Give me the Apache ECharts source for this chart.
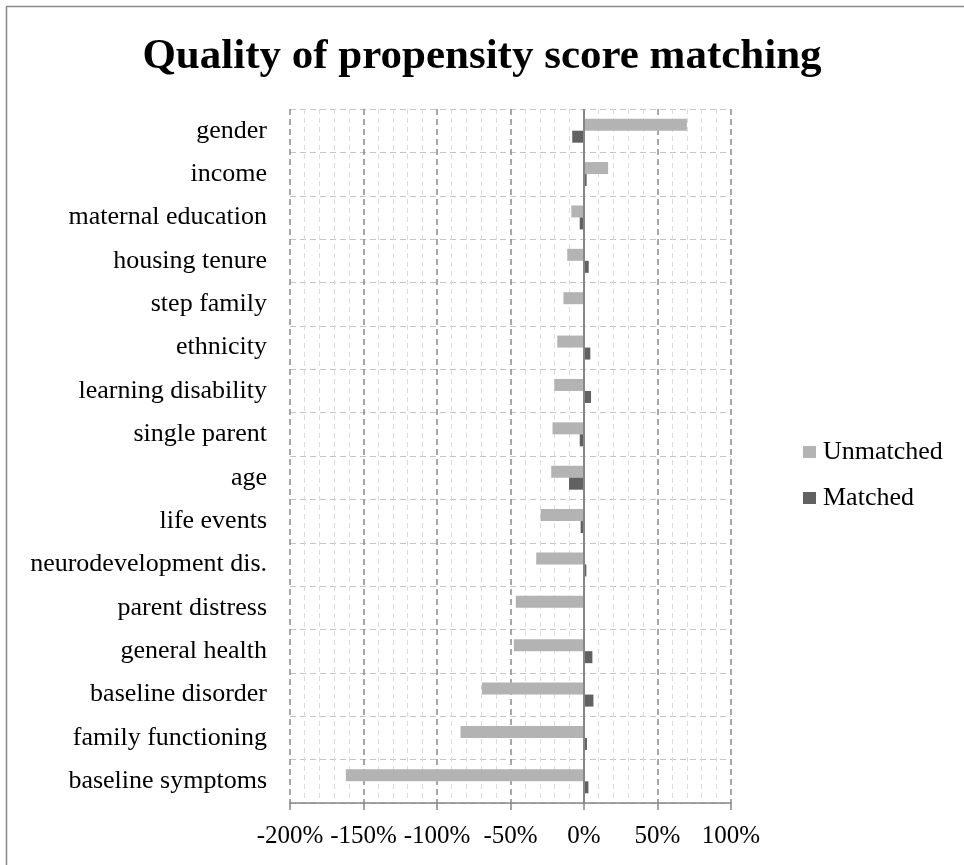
<!DOCTYPE html>
<html>
<head>
<meta charset="utf-8">
<script src="https://cdn.jsdelivr.net/npm/echarts@6/dist/echarts.min.js"></script>
<style>
html,body{margin:0;padding:0;background:#fff;}
#main{width:964px;height:865px;}
</style>
</head>
<body>
<div id="main"></div>
<script>
const categories = ['gender','income','maternal education','housing tenure','step family','ethnicity','learning disability','single parent','age','life events','neurodevelopment dis.','parent distress','general health','baseline disorder','family functioning','baseline symptoms'];
const unmatched = [70, 16.4, -8.6, -11.4, -14, -18.2, -20.2, -21.4, -22.3, -29.5, -32.5, -46.4, -47.7, -69.5, -84, -162];
const matched = [-8, 1.8, -2.9, 3.2, 0, 4.3, 4.8, -2.9, -10.2, -2.3, 1.6, 0, 5.7, 6.4, 2, 3];
const xTicks = [-200, -150, -100, -50, 0, 50, 100];

const FONT = 'Liberation Serif';
const chart = echarts.init(document.getElementById('main'), null, {renderer: 'canvas'});
chart.setOption({
  backgroundColor: '#fff',
  animation: false,
  title: {
    text: 'Quality of propensity score matching',
    left: 'center',
    top: 30,
    textStyle: {fontFamily: FONT, fontWeight: 'bold', fontSize: 43, color: '#000'}
  },
  graphic: [{
    type: 'rect', shape: {x: 6.5, y: 6.5, width: 1000, height: 1000},
    style: {fill: 'none', stroke: '#888', lineWidth: 1.5}, silent: true, z: 100
  }],
  legend: {
    orient: 'vertical',
    left: 798,
    top: 434,
    itemWidth: 13,
    itemHeight: 12,
    itemGap: 20,
    icon: 'rect',
    textStyle: {fontFamily: FONT, fontSize: 26, color: '#000', padding: [0, 0, 0, 2]},
    data: ['Unmatched', 'Matched']
  },
  grid: {left: 290, right: 233, top: 109, bottom: 62, containLabel: false},
  xAxis: {
    type: 'value',
    min: -200, max: 100, interval: 50,
    axisLine: {show: true, lineStyle: {color: '#868686', width: 1.5}},
    axisTick: {show: true, length: 7, lineStyle: {color: '#868686', width: 1.5}},
    axisLabel: {
      fontFamily: FONT, fontSize: 25, color: '#000', margin: 21,
      formatter: v => xTicks.includes(v) ? v + '%' : ''
    },
    splitLine: {show: true, lineStyle: {color: '#8a8a8a', type: [6, 4], width: 1.5}},
    minorTick: {show: false, splitNumber: 5},
    minorSplitLine: {show: true, lineStyle: {color: '#dcdcdc', type: [5, 4], width: 1}}
  },
  yAxis: {
    type: 'category',
    inverse: true,
    data: categories,
    axisLine: {show: false},
    axisTick: {show: false},
    axisLabel: {fontFamily: FONT, fontSize: 26, color: '#000', margin: 23},
    splitLine: {show: true, lineStyle: {color: '#c4c4c4', type: [6, 4], width: 1.2}}
  },
  series: [
    {
      name: 'Unmatched', type: 'bar', data: unmatched,
      itemStyle: {color: '#b3b3b3'},
      barWidth: 12, barGap: '0%',
      markLine: {
        silent: true, symbol: 'none', label: {show: false},
        lineStyle: {color: '#868686', type: 'solid', width: 2},
        data: [{xAxis: 0}]
      }
    },
    {
      name: 'Matched', type: 'bar', data: matched,
      itemStyle: {color: '#616161'},
      barWidth: 12, barGap: '0%'
    }
  ]
});
</script>
</body>
</html>
